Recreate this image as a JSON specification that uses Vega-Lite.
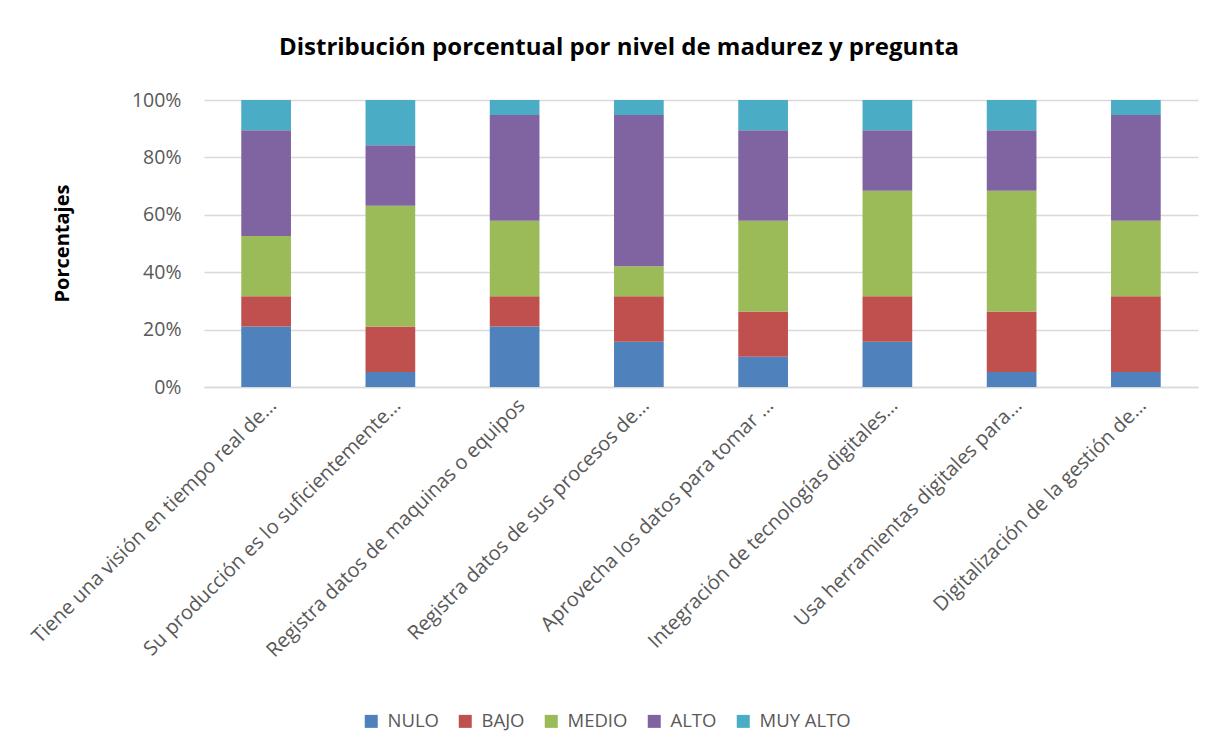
{
  "$schema": "https://vega.github.io/schema/vega-lite/v6.json",
  "width": 994,
  "height": 287,
  "autosize": {"type": "none"},
  "padding": {"left": 204, "top": 100, "right": 21, "bottom": 366},
  "background": "white",
  "title": {
    "text": "Distribución porcentual por nivel de madurez y pregunta",
    "font": "Open Sans",
    "fontSize": 24,
    "fontWeight": "bold",
    "color": "#000000",
    "anchor": "middle",
    "dx": -82,
    "offset": 30
  },
  "data": {
    "values": [
      {"q": "Tiene una visión en tiempo real de…", "o": 1, "nivel": "NULO", "n": 4},
      {"q": "Tiene una visión en tiempo real de…", "o": 1, "nivel": "BAJO", "n": 2},
      {"q": "Tiene una visión en tiempo real de…", "o": 1, "nivel": "MEDIO", "n": 4},
      {"q": "Tiene una visión en tiempo real de…", "o": 1, "nivel": "ALTO", "n": 7},
      {"q": "Tiene una visión en tiempo real de…", "o": 1, "nivel": "MUY ALTO", "n": 2},
      {"q": "Su producción es lo suficientemente…", "o": 2, "nivel": "NULO", "n": 1},
      {"q": "Su producción es lo suficientemente…", "o": 2, "nivel": "BAJO", "n": 3},
      {"q": "Su producción es lo suficientemente…", "o": 2, "nivel": "MEDIO", "n": 8},
      {"q": "Su producción es lo suficientemente…", "o": 2, "nivel": "ALTO", "n": 4},
      {"q": "Su producción es lo suficientemente…", "o": 2, "nivel": "MUY ALTO", "n": 3},
      {"q": "Registra datos de maquinas o equipos", "o": 3, "nivel": "NULO", "n": 4},
      {"q": "Registra datos de maquinas o equipos", "o": 3, "nivel": "BAJO", "n": 2},
      {"q": "Registra datos de maquinas o equipos", "o": 3, "nivel": "MEDIO", "n": 5},
      {"q": "Registra datos de maquinas o equipos", "o": 3, "nivel": "ALTO", "n": 7},
      {"q": "Registra datos de maquinas o equipos", "o": 3, "nivel": "MUY ALTO", "n": 1},
      {"q": "Registra datos de sus procesos de…", "o": 4, "nivel": "NULO", "n": 3},
      {"q": "Registra datos de sus procesos de…", "o": 4, "nivel": "BAJO", "n": 3},
      {"q": "Registra datos de sus procesos de…", "o": 4, "nivel": "MEDIO", "n": 2},
      {"q": "Registra datos de sus procesos de…", "o": 4, "nivel": "ALTO", "n": 10},
      {"q": "Registra datos de sus procesos de…", "o": 4, "nivel": "MUY ALTO", "n": 1},
      {"q": "Aprovecha los datos para tomar …", "o": 5, "nivel": "NULO", "n": 2},
      {"q": "Aprovecha los datos para tomar …", "o": 5, "nivel": "BAJO", "n": 3},
      {"q": "Aprovecha los datos para tomar …", "o": 5, "nivel": "MEDIO", "n": 6},
      {"q": "Aprovecha los datos para tomar …", "o": 5, "nivel": "ALTO", "n": 6},
      {"q": "Aprovecha los datos para tomar …", "o": 5, "nivel": "MUY ALTO", "n": 2},
      {"q": "Integración de tecnologías digitales…", "o": 6, "nivel": "NULO", "n": 3},
      {"q": "Integración de tecnologías digitales…", "o": 6, "nivel": "BAJO", "n": 3},
      {"q": "Integración de tecnologías digitales…", "o": 6, "nivel": "MEDIO", "n": 7},
      {"q": "Integración de tecnologías digitales…", "o": 6, "nivel": "ALTO", "n": 4},
      {"q": "Integración de tecnologías digitales…", "o": 6, "nivel": "MUY ALTO", "n": 2},
      {"q": "Usa  herramientas digitales para…", "o": 7, "nivel": "NULO", "n": 1},
      {"q": "Usa  herramientas digitales para…", "o": 7, "nivel": "BAJO", "n": 4},
      {"q": "Usa  herramientas digitales para…", "o": 7, "nivel": "MEDIO", "n": 8},
      {"q": "Usa  herramientas digitales para…", "o": 7, "nivel": "ALTO", "n": 4},
      {"q": "Usa  herramientas digitales para…", "o": 7, "nivel": "MUY ALTO", "n": 2},
      {"q": "Digitalización de la gestión de…", "o": 8, "nivel": "NULO", "n": 1},
      {"q": "Digitalización de la gestión de…", "o": 8, "nivel": "BAJO", "n": 5},
      {"q": "Digitalización de la gestión de…", "o": 8, "nivel": "MEDIO", "n": 5},
      {"q": "Digitalización de la gestión de…", "o": 8, "nivel": "ALTO", "n": 7},
      {"q": "Digitalización de la gestión de…", "o": 8, "nivel": "MUY ALTO", "n": 1}
    ]
  },
  "mark": {"type": "bar"},
  "encoding": {
    "x": {
      "field": "q",
      "type": "nominal",
      "sort": {"field": "o", "op": "min"},
      "scale": {"paddingInner": 0.6, "paddingOuter": 0.3},
      "axis": {
        "title": null,
        "labelAngle": -45,
        "labelFont": "Open Sans",
        "labelFontSize": 20,
        "labelColor": "#595959",
        "labelLimit": 500,
        "labelPadding": 8,
        "ticks": false,
        "domainColor": "#D9D9D9",
        "domainWidth": 1.5
      }
    },
    "y": {
      "field": "n",
      "type": "quantitative",
      "stack": "normalize",
      "scale": {"domain": [0, 1]},
      "axis": {
        "title": "Porcentajes",
        "titleFont": "Open Sans",
        "titleFontSize": 20,
        "titleFontWeight": "bold",
        "titleColor": "#000000",
        "titleAngle": -90,
        "titleX": -142,
        "titleY": 143,
        "titleAlign": "center",
        "titleBaseline": "middle",
        "format": ".0%",
        "values": [0, 0.2, 0.4, 0.6, 0.8, 1],
        "labelFont": "Open Sans",
        "labelFontSize": 19.5,
        "labelColor": "#595959",
        "labelPadding": 23,
        "ticks": false,
        "domain": false,
        "grid": true,
        "gridColor": "#D9D9D9",
        "gridWidth": 1.5
      }
    },
    "color": {
      "field": "nivel",
      "type": "nominal",
      "sort": ["NULO", "BAJO", "MEDIO", "ALTO", "MUY ALTO"],
      "scale": {
        "domain": ["NULO", "BAJO", "MEDIO", "ALTO", "MUY ALTO"],
        "range": ["#4F81BD", "#C0504D", "#9BBB59", "#8064A2", "#4BACC6"]
      },
      "legend": {
        "title": null,
        "orient": "none",
        "direction": "horizontal",
        "legendX": 158,
        "legendY": 612,
        "symbolType": "square",
        "symbolSize": 169,
        "symbolStrokeWidth": 0,
        "labelFont": "Open Sans",
        "labelFontSize": 18.5,
        "labelColor": "#595959",
        "labelOffset": 7,
        "columnPadding": 17
      }
    },
    "order": {"field": "o2", "type": "quantitative"}
  },
  "config": {
    "view": {"stroke": null},
    "legend": {"symbolOpacity": 1}
  }
}
